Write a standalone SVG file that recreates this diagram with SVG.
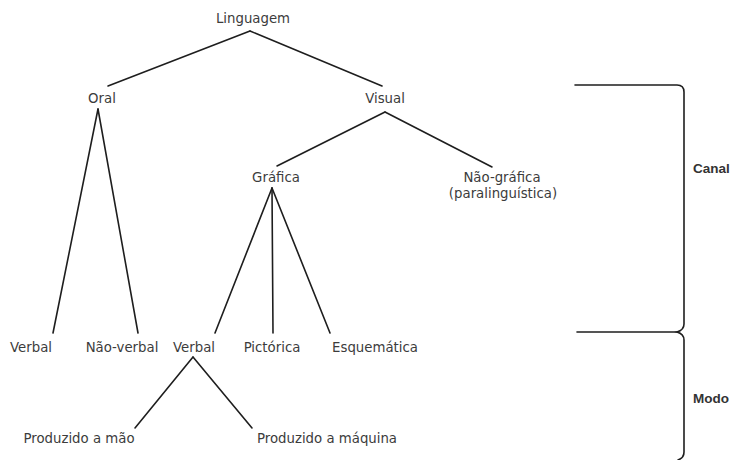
<svg xmlns="http://www.w3.org/2000/svg" width="732" height="460" viewBox="0 0 732 460">
<style>
text{font-family:"DejaVu Sans","Liberation Sans",sans-serif;font-size:13.3px;fill:#3c3c3c;text-anchor:middle}
.b{font-family:"Liberation Sans","DejaVu Sans",sans-serif;font-size:13.5px;font-weight:bold;text-anchor:start;fill:#333}
.c line,.c path{stroke:#1e1e1e;stroke-width:1.6;fill:none;stroke-linecap:round}
</style>
<rect width="732" height="460" fill="#fff"/>
<g class="c" id="connectors">
<line x1="250" y1="31" x2="108" y2="86"/>
<line x1="250" y1="31" x2="382" y2="86"/>
<line x1="98" y1="109" x2="53" y2="333"/>
<line x1="98" y1="109" x2="138" y2="333"/>
<line x1="385" y1="112" x2="277" y2="166"/>
<line x1="385" y1="112" x2="492" y2="167"/>
<line x1="272" y1="188" x2="215" y2="333"/>
<line x1="272" y1="188" x2="273" y2="333"/>
<line x1="272" y1="188" x2="330" y2="333"/>
<line x1="193" y1="357" x2="135" y2="428"/>
<line x1="193" y1="357" x2="252" y2="428"/>
</g>
<g id="n-linguagem"><text x="253" y="23">Linguagem</text></g>
<g id="n-oral"><text x="102" y="103">Oral</text></g>
<g id="n-visual"><text x="385" y="103">Visual</text></g>
<g id="n-grafica"><text x="276" y="182">Gráfica</text></g>
<g id="n-naografica"><text x="502" y="182">Não-gráfica</text><text x="503" y="198">(paralinguística)</text></g>
<g id="n-verbal1"><text x="31" y="352">Verbal</text></g>
<g id="n-naoverbal"><text x="122" y="352">Não-verbal</text></g>
<g id="n-verbal2"><text x="194" y="352">Verbal</text></g>
<g id="n-pictorica"><text x="272" y="352">Pictórica</text></g>
<g id="n-esquematica"><text x="375" y="352">Esquemática</text></g>
<g id="n-mao"><text x="79" y="443">Produzido a mão</text></g>
<g id="n-maquina"><text x="327" y="443">Produzido a máquina</text></g>
<g id="bracket" class="c">
<path d="M575 85 H677 Q684 85 684 92 V324 Q684 330 677 332 Q684 334 684 340 V452 Q684 458 678 460"/>
<line x1="577" y1="332" x2="677" y2="332"/>
</g>
<g id="l-canal"><text class="b" x="693" y="173">Canal</text></g>
<g id="l-modo"><text class="b" x="693" y="403">Modo</text></g>
</svg>
